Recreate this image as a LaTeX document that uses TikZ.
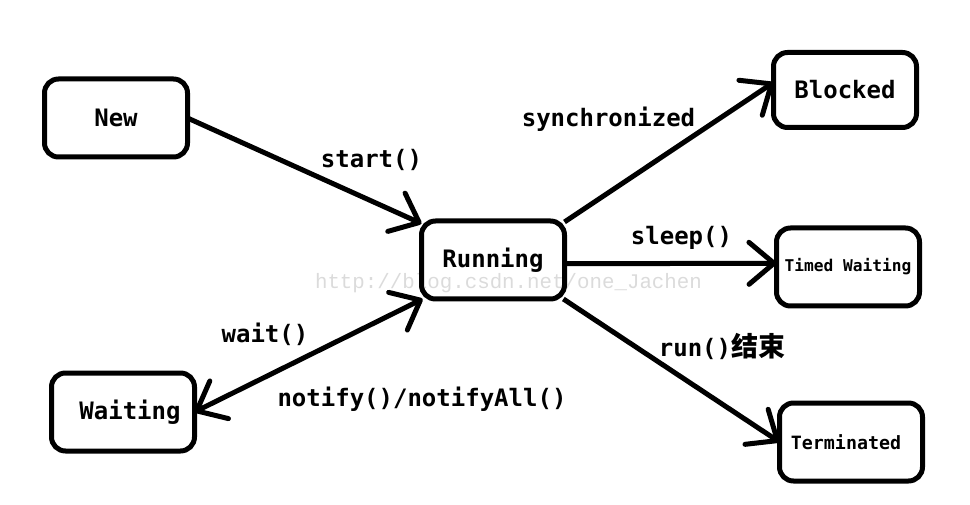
\documentclass[tikz,border=0pt]{standalone}
\usepackage{fontspec}
\setmonofont{DejaVu Sans Mono}
\newfontfamily\cjk{Noto Sans CJK SC}
\newfontfamily\markfont{Liberation Mono}
\usetikzlibrary{arrows.meta}

\begin{document}
\begin{tikzpicture}[x=1pt, y=-1pt, line width=5pt,
  state/.style = {shape=rectangle, rounded corners=14pt,
    draw, align=center, outer sep=0pt,
    minimum width=143pt, minimum height=78pt,
    font=\ttfamily\bfseries\fontsize{24}{28}\selectfont},
  barb/.tip = {Straight Barb[length=25pt, width=42pt, round]},
  trans/.style = {-barb},
  twoway/.style = {barb-barb},
  lbl/.style = {anchor=base, inner sep=0pt,
    font=\ttfamily\bfseries\fontsize{24}{28}\selectfont}]
  \useasboundingbox (0,0) rectangle (970,505);
  % watermark under everything
  \node [anchor=base, inner sep=0pt, text=black!14,
    font=\markfont\fontsize{20.8}{24}\selectfont] (mark) at (508.5,289)
    {http://blog.csdn.net/one\_Jachen};
  % states
  \node [state] (new) at (116,118) {New};
  \node [state] (running) at (493,260) {Running};
  \node [state, minimum height=75pt] (blocked) at (845,90) {Blocked};
  \node [state, font=\ttfamily\bfseries\fontsize{16.2}{20}\selectfont]
    (timed) at (848,267) {Timed Waiting};
  \node [state] (waiting) at (123,412) {\hspace{14pt}Waiting};
  \node [state, font=\ttfamily\bfseries\fontsize{18.3}{22}\selectfont]
    (terminated) at (851,442) {Terminated\hspace{10pt}};
  % transitions
  \draw [trans] (new.east) -- (running.153);
  \draw [trans] (running.28) -- (blocked.174);
  \draw [trans] (running.-3) -- (timed.177);
  \draw [trans] (running.-29) -- (terminated.west);
  \draw [twoway] (running.209) -- (waiting.east);
  % labels
  \node [lbl] (startlbl) at (371.5,168) {start()};
  \node [lbl] (synclbl) at (608.5,126.7) {synchronized};
  \node [lbl] (sleeplbl) at (681.5,245) {sleep()};
  \node [lbl] (runlbl) at (722,356) {run(){\cjk\fontsize{27}{30}\selectfont 结束}};
  \node [lbl] (waitlbl) at (265,342.7) {wait()};
  \node [lbl] (notifylbl) at (422,406.7) {notify()/notifyAll()};
\end{tikzpicture}
\end{document}
